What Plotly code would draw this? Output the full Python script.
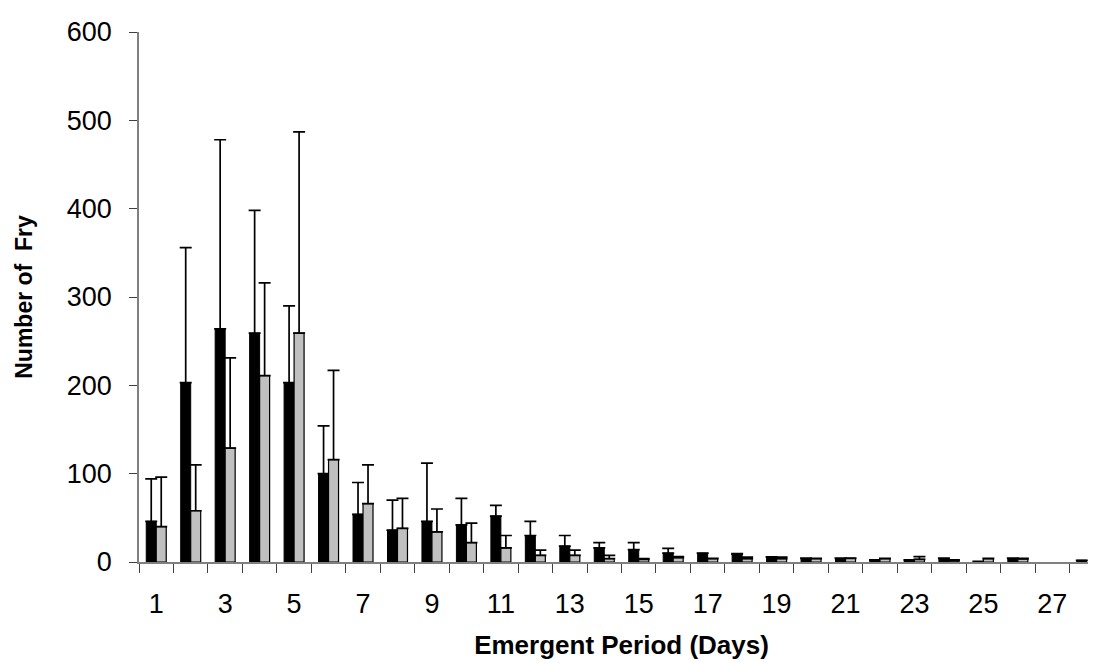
import plotly.graph_objects as go

days = list(range(1, 29))
black_vals = [46, 203, 264, 259, 203, 100, 54, 36, 46, 42, 52, 30, 18, 16, 14, 10, 10, 9, 5.5, 4, 4, 1.5, 1.5, 4, 0.5, 4, None, 2]
black_err = [48, 153, 214, 139, 87, 54, 36, 34, 66, 30, 12, 16, 12, 6, 8, 5.5, 0.2, 0.6, 0.2, 0.3, 0.5, 0.8, 0.8, 0.3, 0.2, 0.3, None, None]
gray_vals = [40, 58, 129, 211, 259, 116, 66, 38, 34, 22, 16, 7.5, 7.5, 3.8, 3, 4.9, 3.8, 3.8, 3.8, 3.8, 4, 3.8, 3, 1.5, 3.8, 3.4, None, None]
gray_err = [56, 52, 102, 105, 228, 101, 44, 34, 26, 22, 14, 6, 6, 3.7, 0.8, 1.1, 0.2, 1.8, 1.8, 0.3, 0.5, 0.3, 3, 0.8, 0.3, 0.7, None, None]
label_days = list(range(1, 29, 2))
y_ticks = [0, 100, 200, 300, 400, 500, 600]

FONT = "Liberation Sans, Arial, sans-serif"

def err(arr):
    return dict(type="data", symmetric=False, array=arr,
                arrayminus=[0 if v is not None else None for v in arr],
                color="black", thickness=1.7, width=6)

fig = go.Figure()
fig.add_trace(go.Bar(x=days, y=black_vals, marker=dict(color="black", line=dict(color="black", width=1)),
                     error_y=err(black_err), showlegend=False))
fig.add_trace(go.Bar(x=days, y=gray_vals, marker=dict(color="#C0C0C0", line=dict(color="black", width=1.2)),
                     error_y=err(gray_err), showlegend=False))

fig.update_layout(
    width=1096, height=663,
    margin=dict(l=131, r=0, t=24, b=109),
    paper_bgcolor="white", plot_bgcolor="white",
    barmode="group", bargap=0.42, bargroupgap=0,
    font=dict(family=FONT, size=27, color="black"),
)
fig.update_xaxes(
    range=[0.5, 28.5], tickmode="array", tickvals=label_days,
    ticktext=[str(d) for d in label_days],
    ticks="outside", ticklen=8, tickcolor="rgba(0,0,0,0)",
    ticklabelstandoff=9,
    minor=dict(tickmode="array", tickvals=[d + 0.5 for d in range(0, 29)],
               ticks="outside", ticklen=9, tickcolor="#404040", tickwidth=1.2),
    showline=True, linecolor="#808080", linewidth=1.5,
    showgrid=False, zeroline=False,
    tickfont=dict(size=27),
    title=dict(text="<b>Emergent Period (Days)</b>", font=dict(size=26), standoff=18),
)
fig.update_yaxes(
    range=[0, 600], tickmode="array", tickvals=y_ticks,
    ticks="outside", ticklen=8, tickcolor="#404040", tickwidth=1.2,
    ticklabelstandoff=12,
    showline=True, linecolor="#808080", linewidth=1.5,
    showgrid=False, zeroline=False,
    tickfont=dict(size=27),
    title=dict(text="<b>Number of\u00a0 Fry</b>", font=dict(size=23), standoff=28),
)

fig.write_html("out.html")
